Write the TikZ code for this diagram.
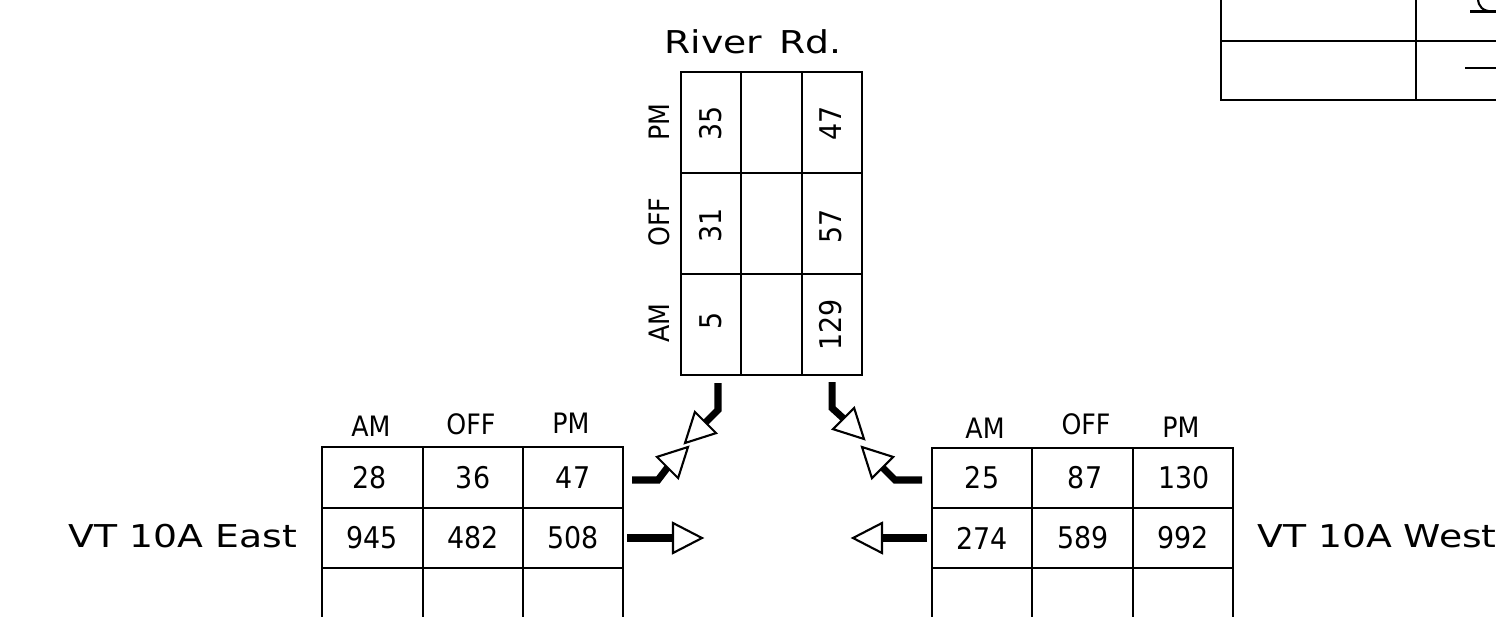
\documentclass[tikz,border=0pt]{standalone}
\usepackage{fontspec}
\setmainfont{DejaVu Sans}
\newfontfamily\cadn[FakeStretch=0.9]{DejaVu Sans}
\newfontfamily\cadl[FakeStretch=1.2]{DejaVu Sans}
\begin{document}
\begin{tikzpicture}[x=0.02cm, y=-0.02cm,
  grid/.style={line width=1.2pt, line cap=rect},
  hdr/.style={font=\cadn\fontsize{16}{18}\selectfont, inner sep=0pt},
  num/.style={font=\cadn\fontsize{17}{19}\selectfont, inner sep=0pt},
  lbl/.style={font=\cadl\fontsize{17.9}{20}\selectfont, inner sep=0pt},
  mvline/.style={line width=4pt, line join=miter},
  mvhead/.style={line width=1.2pt, line join=miter, fill=white},
]
\useasboundingbox (0,0) rectangle (1496,616);

% ---------- River Rd. table ----------
\draw[grid] (681,72) rectangle (862,375);
\draw[grid] (741,72) -- (741,375) (802,72) -- (802,375);
\draw[grid] (681,173) -- (862,173) (681,274) -- (862,274);
\node[lbl] (rr) at (753,42) {River\hspace{0.15em} Rd.};
\node[hdr, rotate=90] (rpm) at (659,122) {PM};
\node[hdr, rotate=90] (roff) at (659,222) {OFF};
\node[hdr, rotate=90] (ram) at (659,323) {AM};
\node[num, rotate=90] (r11) at (711,123) {35};
\node[num, rotate=90] (r12) at (711,225) {31};
\node[num, rotate=90] (r13) at (711,321) {5};
\node[num, rotate=90] (r31) at (831,123) {47};
\node[num, rotate=90] (r32) at (831,226) {57};
\node[num, rotate=90] (r33) at (831,325) {129};

% ---------- VT 10A East table ----------
\draw[grid] (322,630) -- (322,447) -- (623,447) -- (623,630);
\draw[grid] (423,447) -- (423,630) (523,447) -- (523,630);
\draw[grid] (322,508) -- (623,508) (322,568) -- (623,568);
\node[hdr] (eam) at (371,426) {AM};
\node[hdr] (eoff) at (471,424) {OFF};
\node[hdr] (epm) at (571,423) {PM};
\node[num] (e11) at (370,478) {28};
\node[num] (e12) at (473,478) {36};
\node[num] (e13) at (573,478) {47};
\node[num] (e21) at (372,538) {945};
\node[num] (e22) at (473,538) {482};
\node[num] (e23) at (573,538) {508};
\node[lbl] (east) at (183,536) {VT 10A East};

% ---------- VT 10A West table ----------
\draw[grid] (932,630) -- (932,448) -- (1233,448) -- (1233,630);
\draw[grid] (1032,448) -- (1032,630) (1133,448) -- (1133,630);
\draw[grid] (932,508) -- (1233,508) (932,568) -- (1233,568);
\node[hdr] (wam) at (985,428) {AM};
\node[hdr] (woff) at (1086,424) {OFF};
\node[hdr] (wpm) at (1181,427) {PM};
\node[num] (w11) at (982,478) {25};
\node[num] (w12) at (1085,478) {87};
\node[num] (w13) at (1184,478) {130};
\node[num] (w21) at (982,538) {274};
\node[num] (w22) at (1083,538) {589};
\node[num] (w23) at (1183,538) {992};
\node[lbl] (west) at (1377,536) {VT 10A West};

% ---------- movement arrows ----------
\coordinate (ebl0) at (632,480); \coordinate (ebl1) at (658,480); \coordinate (eblb) at (667.5,467.5);
\coordinate (ebla) at (656.9,456.9); \coordinate (eblc) at (678.1,478.1); \coordinate (eblt) at (688,447);
\draw[mvline] (ebl0) -- (ebl1) -- (eblb);
\draw[mvhead] (ebla) -- (eblt) -- (eblc) -- cycle;
\coordinate (sbr0) at (718,383); \coordinate (sbr1) at (718,410); \coordinate (sbrb) at (705.5,422.5);
\coordinate (sbra) at (694.9,411.9); \coordinate (sbrc) at (716.1,433.1); \coordinate (sbrt) at (685,443);
\draw[mvline] (sbr0) -- (sbr1) -- (sbrb);
\draw[mvhead] (sbra) -- (sbrt) -- (sbrc) -- cycle;
\coordinate (sbl0) at (832,382); \coordinate (sbl1) at (832,408); \coordinate (sblb) at (843.5,418.5);
\coordinate (sbla) at (854.1,407.9); \coordinate (sblc) at (832.9,429.1); \coordinate (sblt) at (864,439);
\draw[mvline] (sbl0) -- (sbl1) -- (sblb);
\draw[mvhead] (sbla) -- (sblt) -- (sblc) -- cycle;
\coordinate (wbr0) at (922,480); \coordinate (wbr1) at (895,480); \coordinate (wbrb) at (882.5,467.5);
\coordinate (wbra) at (893.1,456.9); \coordinate (wbrc) at (871.9,478.1); \coordinate (wbrt) at (862,447);
\draw[mvline] (wbr0) -- (wbr1) -- (wbrb);
\draw[mvhead] (wbra) -- (wbrt) -- (wbrc) -- cycle;
\coordinate (ebt0) at (627,538); \coordinate (ebtb) at (673,538);
\coordinate (ebta) at (673,523); \coordinate (ebtc) at (673,553); \coordinate (ebtt) at (702,538);
\draw[mvline] (ebt0) -- (ebtb);
\draw[mvhead] (ebta) -- (ebtt) -- (ebtc) -- cycle;
\coordinate (wbt0) at (927,538); \coordinate (wbtb) at (882,538);
\coordinate (wbta) at (882,523); \coordinate (wbtc) at (882,553); \coordinate (wbtt) at (853,538);
\draw[mvline] (wbt0) -- (wbtb);
\draw[mvhead] (wbta) -- (wbtt) -- (wbtc) -- cycle;

% ---------- table fragment top right ----------
\draw[grid] (1221,-10) -- (1221,100) -- (1510,100);
\draw[grid] (1221,41) -- (1510,41);
\draw[grid] (1416,-10) -- (1416,100);
\draw[line width=1.2pt] (1470,11.5) -- (1510,11.5);
\draw[line width=1.2pt] (1478,-2) .. controls (1478,7) and (1483,11) .. (1492,11.5);
\draw[line width=1.2pt] (1465,68) -- (1510,68);
\end{tikzpicture}
\end{document}
